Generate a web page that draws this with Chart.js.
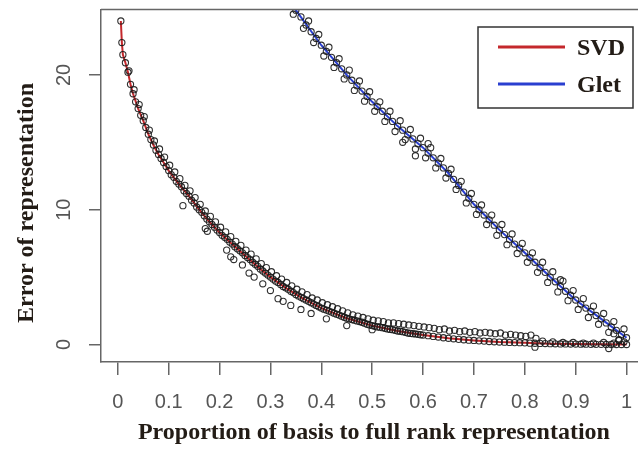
<!DOCTYPE html>
<html>
<head>
<meta charset="utf-8">
<script src="https://cdn.jsdelivr.net/npm/chart.js@4.4.1/dist/chart.umd.min.js"></script>
<style>
  html, body { margin: 0; padding: 0; background: #fff; overflow: hidden; }
  #wrap { width: 652px; height: 449px; position: relative; }
</style>
</head>
<body>
<div id="wrap"><canvas id="c" width="652" height="449"></canvas></div>
<script>
// Fitted error curves (x = proportion of basis, y = error)
const svdLineX = [0.006,0.008,0.01,0.015,0.02,0.025,0.03,0.04,0.05,0.06,0.07,0.08,0.09,0.10,0.12,0.14,0.16,0.18,0.20,0.22,0.25,0.28,0.30,0.33,0.36,0.40,0.45,0.50,0.55,0.60,0.65,0.70,0.75,0.80,0.85,0.90,0.95,1.00];
const svdLineY = [24.0,22.4,21.5,20.9,20.2,19.3,18.6,17.5,16.6,15.6,14.8,14.1,13.5,12.9,11.9,11.0,10.0,9.1,8.3,7.6,6.6,5.6,5.0,4.2,3.5,2.7,1.95,1.4,1.0,0.7,0.46,0.3,0.18,0.12,0.06,0.03,0.01,0.0];

const gletLineX = [0.34,0.35,0.40,0.45,0.50,0.55,0.60,0.65,0.70,0.75,0.80,0.85,0.90,0.95,1.00];
const gletLineY = [25.3,24.8,22.2,20.0,18.0,16.2,14.6,12.7,10.4,8.5,6.8,5.0,3.3,1.9,0.5];

// SVD observations lying on the fitted curve
const svdCoreX = [0.006,0.008,0.01,0.015,0.02,0.025,0.03,0.035,0.04,0.045,0.05,0.055,0.06,0.065,0.07,0.075,0.08,0.085,0.09,0.095,0.1,0.105,0.11,0.115,0.12,0.125,0.13,0.135,0.14,0.145,0.15,0.155,0.16,0.165,0.17,0.175,0.18,0.185,0.19,0.195,0.2,0.205,0.21,0.215,0.22,0.225,0.23,0.235,0.24,0.245,0.25,0.255,0.26,0.265,0.27,0.275,0.28,0.285,0.29,0.295,0.3,0.305,0.31,0.315,0.32,0.325,0.33,0.335,0.34,0.345,0.35,0.355,0.36,0.365,0.37,0.375,0.38,0.385,0.39,0.395,0.4,0.405,0.41,0.415,0.42,0.425,0.43,0.435,0.44,0.445,0.45,0.455,0.46,0.465,0.47,0.475,0.48,0.485,0.49,0.495,0.5,0.505,0.51,0.515,0.52,0.525,0.53,0.535,0.54,0.545,0.55,0.555,0.56,0.565,0.57,0.575,0.58,0.585,0.59,0.595,0.6,0.61,0.62,0.63,0.64,0.65,0.66,0.67,0.68,0.69,0.7,0.71,0.72,0.73,0.74,0.75,0.76,0.77,0.78,0.79,0.8,0.81,0.82,0.83,0.84,0.85,0.86,0.87,0.88,0.89,0.9,0.91,0.92,0.93,0.94,0.95,0.96,0.97,0.98,0.99,1.0];
const svdCoreY = [24.0,22.4,21.5,20.9,20.2,19.3,18.6,18.0,17.5,17.0,16.6,16.1,15.6,15.2,14.8,14.4,14.1,13.8,13.5,13.2,12.9,12.6,12.4,12.1,11.9,11.7,11.4,11.2,11.0,10.7,10.5,10.2,10.0,9.8,9.55,9.3,9.1,8.9,8.7,8.5,8.3,8.1,7.95,7.8,7.6,7.45,7.25,7.1,6.95,6.8,6.6,6.45,6.3,6.1,5.95,5.8,5.6,5.45,5.3,5.15,5.0,4.85,4.7,4.6,4.45,4.3,4.2,4.1,3.95,3.85,3.7,3.6,3.5,3.4,3.3,3.2,3.1,3.0,2.9,2.8,2.7,2.62,2.55,2.48,2.4,2.32,2.25,2.18,2.1,2.02,1.95,1.9,1.85,1.8,1.75,1.7,1.65,1.58,1.5,1.45,1.4,1.35,1.3,1.28,1.25,1.2,1.15,1.12,1.1,1.05,1.0,0.98,0.95,0.9,0.85,0.82,0.8,0.78,0.75,0.72,0.7,0.65,0.6,0.55,0.5,0.46,0.42,0.38,0.35,0.32,0.3,0.27,0.25,0.22,0.2,0.18,0.17,0.15,0.14,0.13,0.12,0.1,0.09,0.08,0.07,0.06,0.05,0.04,0.04,0.03,0.03,0.02,0.02,0.01,0.01,0.01,0.0,0.0,0.0,0.0,0.0];

// SVD observations scattered around the curve
const svdSpreadX = [0.022,0.032,0.042,0.052,0.062,0.072,0.082,0.092,0.102,0.112,0.122,0.132,0.142,0.152,0.162,0.172,0.182,0.192,0.202,0.212,0.222,0.232,0.242,0.252,0.262,0.272,0.282,0.292,0.302,0.312,0.322,0.332,0.342,0.352,0.362,0.372,0.382,0.392,0.402,0.412,0.422,0.432,0.442,0.452,0.462,0.472,0.482,0.492,0.502,0.512,0.522,0.532,0.542,0.552,0.562,0.572,0.582,0.592,0.602,0.612,0.622,0.632,0.642,0.652,0.662,0.672,0.682,0.692,0.702,0.712,0.722,0.732,0.742,0.752,0.762,0.772,0.782,0.792,0.802,0.812,0.822,0.835,0.855,0.875,0.895,0.915,0.935,0.955,0.965,0.975,0.985,0.995,0.128,0.172,0.176,0.214,0.222,0.228,0.245,0.258,0.268,0.285,0.3,0.315,0.325,0.34,0.36,0.38,0.41,0.45,0.5,0.82];
const svdSpreadY = [20.3,18.9,17.8,16.9,15.9,15.1,14.5,13.9,13.3,12.8,12.3,11.8,11.4,10.9,10.4,9.9,9.5,9.1,8.7,8.35,8.0,7.65,7.35,7.0,6.7,6.35,6.0,5.7,5.4,5.1,4.85,4.6,4.35,4.1,3.9,3.7,3.45,3.3,3.1,2.95,2.8,2.65,2.5,2.35,2.2,2.1,2.0,1.9,1.8,1.75,1.7,1.6,1.6,1.55,1.5,1.45,1.4,1.35,1.3,1.25,1.2,1.1,1.15,1.0,1.05,0.95,1.0,0.9,0.95,0.85,0.9,0.85,0.8,0.85,0.7,0.75,0.7,0.65,0.6,0.7,0.45,0.25,0.2,0.15,0.15,0.1,0.1,0.15,-0.3,0.1,0.3,0.2,10.3,8.6,8.4,7.0,6.5,6.3,5.9,5.3,5.0,4.5,4.0,3.4,3.2,2.9,2.6,2.3,1.9,1.4,1.1,-0.2];

// Glet observations: along the fit, then alternating just below / above it
const gletPtsX = [0.34,0.35,0.36,0.37,0.38,0.39,0.40,0.41,0.42,0.43,0.44,0.45,0.46,0.47,0.48,0.49,0.50,0.51,0.52,0.53,0.54,0.55,0.56,0.57,0.58,0.59,0.60,0.61,0.62,0.63,0.64,0.65,0.66,0.67,0.68,0.69,0.70,0.71,0.72,0.73,0.74,0.75,0.76,0.77,0.78,0.79,0.80,0.81,0.82,0.83,0.84,0.85,0.86,0.87,0.88,0.89,0.90,0.91,0.92,0.93,0.94,0.95,0.96,0.97,0.98,0.99,1.00,
  0.345,0.355,0.365,0.375,0.385,0.395,0.405,0.415,0.425,0.435,0.445,0.455,0.465,0.475,0.485,0.495,0.505,0.515,0.525,0.535,0.545,0.555,0.565,0.575,0.585,0.595,0.605,0.615,0.625,0.635,0.645,0.655,0.665,0.675,0.685,0.695,0.705,0.715,0.725,0.735,0.745,0.755,0.765,0.775,0.785,0.795,0.805,0.815,0.825,0.835,0.845,0.855,0.865,0.875,0.885,0.895,0.905,0.915,0.925,0.935,0.945,0.955,0.965,0.975,0.985,0.995,
  0.56,0.585,0.61,0.87,0.975];
const gletPtsY = [25.3,24.8,24.3,23.7,23.2,22.7,22.2,21.75,21.3,20.9,20.45,20.0,19.6,19.2,18.8,18.4,18.0,17.65,17.3,16.9,16.55,16.2,15.9,15.55,15.25,14.9,14.6,14.2,13.85,13.45,13.1,12.7,12.25,11.8,11.3,10.85,10.4,10.0,9.6,9.25,8.85,8.5,8.15,7.8,7.45,7.15,6.8,6.45,6.1,5.7,5.35,5.0,4.65,4.3,3.95,3.65,3.3,3.0,2.7,2.45,2.15,1.9,1.6,1.3,1.05,0.75,0.5,
  24.5,25.1,23.45,24.0,22.4,23.0,21.4,22.05,20.55,21.2,19.7,20.35,18.85,19.55,18.05,18.75,17.3,18.0,16.55,17.3,15.8,16.6,15.2,15.95,14.5,15.3,13.85,14.6,13.1,13.8,12.35,13.0,11.5,12.1,10.5,11.2,9.65,10.35,8.9,9.6,8.1,8.9,7.4,8.2,6.75,7.5,6.1,6.8,5.35,6.1,4.6,5.4,3.9,4.7,3.25,4.0,2.6,3.4,2.0,2.85,1.5,2.3,0.9,1.7,0.35,1.15,
  15.0,14.0,14.9,4.8,0.8];

// Axis ticks
const xTickValues = [0,0.1,0.2,0.3,0.4,0.5,0.6,0.7,0.8,0.9,1];
const xTickLabels = ['0','0.1','0.2','0.3','0.4','0.5','0.6','0.7','0.8','0.9','1'];
const yTickValues = [0,10,20];
const yTickLabels = ['0','10','20'];

const seriesNames = ['SVD','Glet'];
const seriesColors = ['#c4282c','#2a3fd0'];

const toXY = (xs, ys) => xs.map((x, i) => ({ x: x, y: ys[i] }));

const AXIS_GREY = '#666';
const TICK_FONT = { family: 'Liberation Sans', size: 20 };
const TITLE_FONT = { family: 'Liberation Serif', size: 24, weight: 'bold' };
const TITLE_COLOR = '#231c16';

// Box top/right edges, rotated y tick labels, y title and the legend
const decorations = {
  id: 'decorations',
  afterDraw(chart) {
    const { ctx, chartArea: a, scales } = chart;
    ctx.save();
    ctx.strokeStyle = AXIS_GREY;
    ctx.lineWidth = 1.5;
    ctx.beginPath();
    ctx.moveTo(a.left, a.top);
    ctx.lineTo(a.right, a.top);
    ctx.lineTo(a.right, a.bottom);
    ctx.stroke();

    // y tick labels, written upward
    const ys = scales.y;
    ctx.fillStyle = '#555';
    ctx.font = `${TICK_FONT.size}px ${TICK_FONT.family}`;
    ctx.textAlign = 'center';
    ctx.textBaseline = 'middle';
    yTickValues.forEach((v, i) => {
      const py = ys.getPixelForValue(v);
      ctx.save();
      ctx.translate(63.5, py);
      ctx.rotate(-Math.PI / 2);
      ctx.fillText(yTickLabels[i], 0, 1);
      ctx.restore();
    });

    // y axis title
    ctx.save();
    ctx.fillStyle = TITLE_COLOR;
    ctx.font = `bold ${TITLE_FONT.size}px ${TITLE_FONT.family}`;
    ctx.translate(27, 203);
    ctx.rotate(-Math.PI / 2);
    ctx.fillText('Error of representation', 0, 0);
    ctx.restore();

    // legend
    const bx = 478, by = 27, bw = 155, bh = 81;
    ctx.fillStyle = '#fff';
    ctx.fillRect(bx, by, bw, bh);
    ctx.strokeStyle = '#333';
    ctx.lineWidth = 1.5;
    ctx.strokeRect(bx, by, bw, bh);
    const rows = [47, 84];
    ctx.font = `bold ${TITLE_FONT.size}px ${TITLE_FONT.family}`;
    ctx.textAlign = 'left';
    ctx.textBaseline = 'middle';
    seriesNames.forEach((name, i) => {
      ctx.strokeStyle = seriesColors[i];
      ctx.lineWidth = 3;
      ctx.beginPath();
      ctx.moveTo(498, rows[i]);
      ctx.lineTo(565, rows[i]);
      ctx.stroke();
      ctx.fillStyle = TITLE_COLOR;
      ctx.fillText(name, 577, rows[i] + 2);
    });
    ctx.restore();
  }
};

const obsStyle = {
  showLine: false,
  pointRadius: 3.1,
  pointStyle: 'circle',
  pointBorderWidth: 1.1,
  pointBorderColor: 'rgba(25,25,25,0.9)',
  pointBackgroundColor: 'rgba(0,0,0,0)',
  order: 0
};

new Chart(document.getElementById('c'), {
  type: 'scatter',
  data: {
    datasets: [
      { label: seriesNames[0], data: toXY(svdLineX, svdLineY), showLine: true, pointRadius: 0,
        borderColor: seriesColors[0], borderWidth: 2, order: 1 },
      { label: seriesNames[1], data: toXY(gletLineX, gletLineY), showLine: true, pointRadius: 0,
        borderColor: seriesColors[1], borderWidth: 2, order: 1 },
      Object.assign({ label: seriesNames[0] + ' fit points', data: toXY(svdCoreX, svdCoreY) }, obsStyle),
      Object.assign({ label: seriesNames[0] + ' spread', data: toXY(svdSpreadX, svdSpreadY) }, obsStyle),
      Object.assign({ label: seriesNames[1] + ' points', data: toXY(gletPtsX, gletPtsY) }, obsStyle)
    ]
  },
  options: {
    responsive: false,
    animation: false,
    devicePixelRatio: 1,
    events: [],
    layout: { padding: { top: 9.5, right: 0, left: 0, bottom: 0 } },
    plugins: { legend: { display: false }, tooltip: { enabled: false } },
    scales: {
      x: {
        type: 'linear',
        min: -0.033,
        max: 1.04,
        afterBuildTicks: s => { s.ticks = xTickValues.map(v => ({ value: v })); },
        afterFit: s => { s.height = 87; },
        grid: { drawOnChartArea: false, drawTicks: true, tickLength: 13, color: AXIS_GREY, lineWidth: 1.5 },
        border: { display: true, color: AXIS_GREY, width: 1.5 },
        ticks: {
          font: TICK_FONT, color: '#555', padding: 15, maxRotation: 0, autoSkip: false,
          callback: (v, i) => xTickLabels[i]
        },
        title: {
          display: true, text: 'Proportion of basis to full rank representation',
          font: TITLE_FONT, color: TITLE_COLOR, padding: { top: 0, bottom: 2 }
        }
      },
      y: {
        type: 'linear',
        min: -1.3,
        max: 24.85,
        afterBuildTicks: s => { s.ticks = yTickValues.map(v => ({ value: v })); },
        afterFit: s => { s.width = 101; },
        grid: { drawOnChartArea: false, drawTicks: true, tickLength: 12, color: AXIS_GREY, lineWidth: 1.5 },
        border: { display: true, color: AXIS_GREY, width: 1.5 },
        ticks: { display: false }
      }
    }
  },
  plugins: [decorations]
});
</script>
</body>
</html>
